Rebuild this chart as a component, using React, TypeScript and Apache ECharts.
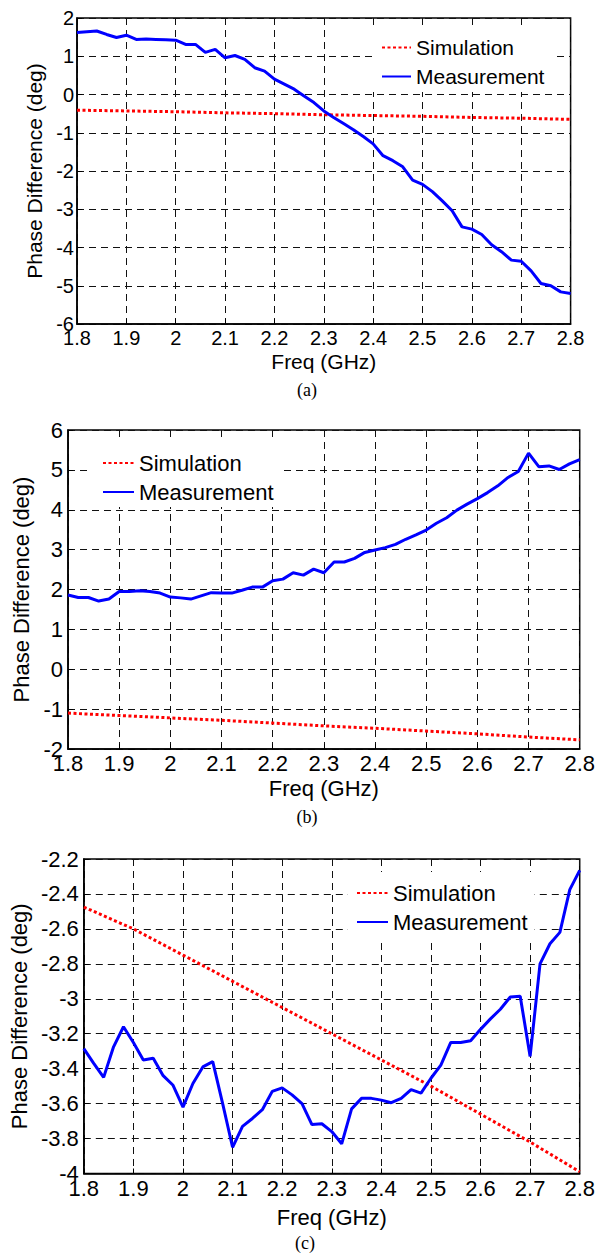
import React, { useEffect, useRef } from "react";
import * as echarts from "echarts";

// Frequency samples (GHz)
const freqMeas = [
  1.8, 1.82, 1.84, 1.86, 1.88, 1.9, 1.92, 1.94, 1.96, 1.98,
  2.0, 2.02, 2.04, 2.06, 2.08, 2.1, 2.12, 2.14, 2.16, 2.18,
  2.2, 2.22, 2.24, 2.26, 2.28, 2.3, 2.32, 2.34, 2.36, 2.38,
  2.4, 2.42, 2.44, 2.46, 2.48, 2.5, 2.52, 2.54, 2.56, 2.58,
  2.6, 2.62, 2.64, 2.66, 2.68, 2.7, 2.72, 2.74, 2.76, 2.78, 2.8,
];
const freqSim = [1.8, 1.9, 2.0, 2.1, 2.2, 2.3, 2.4, 2.5, 2.6, 2.7, 2.8];

// (a)
const measA = [
  1.62, 1.64, 1.66, 1.57, 1.49, 1.55, 1.44, 1.45, 1.44, 1.43,
  1.42, 1.31, 1.31, 1.1, 1.18, 0.96, 1.02, 0.92, 0.7, 0.61,
  0.4, 0.27, 0.14, -0.04, -0.21, -0.43, -0.6, -0.76, -0.92, -1.1,
  -1.29, -1.6, -1.73, -1.89, -2.24, -2.35, -2.54, -2.78, -3.04, -3.46,
  -3.52, -3.66, -3.93, -4.11, -4.33, -4.36, -4.61, -4.94, -5.0, -5.16, -5.2,
];
const simA = [-0.41, -0.43, -0.45, -0.48, -0.5, -0.53, -0.55, -0.57, -0.6, -0.62, -0.65];

// (b)
const measB = [
  1.86, 1.8, 1.8, 1.71, 1.76, 1.95, 1.95, 1.97, 1.95, 1.91,
  1.81, 1.79, 1.76, 1.84, 1.92, 1.91, 1.91, 1.98, 2.06, 2.06,
  2.22, 2.26, 2.42, 2.36, 2.51, 2.42, 2.69, 2.69, 2.78, 2.93,
  2.99, 3.05, 3.13, 3.26, 3.37, 3.49, 3.66, 3.8, 3.99, 4.14,
  4.28, 4.43, 4.6, 4.81, 4.96, 5.42, 5.08, 5.1, 5.01, 5.15, 5.26,
];
const simB = [-1.1, -1.16, -1.22, -1.28, -1.35, -1.42, -1.48, -1.55, -1.62, -1.7, -1.77];

// (c)
const measC = [
  -3.285, -3.37, -3.45, -3.275, -3.16, -3.25, -3.35, -3.34, -3.44, -3.495,
  -3.62, -3.485, -3.39, -3.36, -3.6, -3.85, -3.73, -3.685, -3.635, -3.53,
  -3.51, -3.55, -3.6, -3.72, -3.715, -3.76, -3.83, -3.63, -3.57, -3.57,
  -3.58, -3.595, -3.57, -3.52, -3.54, -3.455, -3.38, -3.25, -3.25, -3.24,
  -3.175, -3.115, -3.06, -2.99, -2.985, -3.33, -2.8, -2.685, -2.62, -2.375, -2.265,
];
const simC = [-2.475, -2.6, -2.75, -2.9, -3.05, -3.2, -3.35, -3.5, -3.66, -3.82, -3.99];

const seriesNames = ["Simulation", "Measurement"];
const xAxisTitle = "Freq (GHz)";
const yAxisTitle = "Phase Difference (deg)";
const captions = ["(a)", "(b)", "(c)"];

const FONT = "'Liberation Sans', Arial, Helvetica, sans-serif";

const pairs = (xs: number[], ys: number[]) => xs.map((x, i) => [x, ys[i]]);

type Panel = {
  grid: { left: number; top: number; width: number; height: number };
  yMin: number;
  yMax: number;
  yInterval: number;
  tickSize: number;
  nameSize: number;
  xLabelMargin: number;
  yLabelMargin: number;
  xNameGap: number;
  yNameGap: number;
  legend: { left: number; top: number; padding: number[]; itemWidth: number; itemGap: number; fontSize: number };
  caption: { x: number; y: number };
  meas: number[];
  sim: number[];
};

const panels: Panel[] = [
  {
    grid: { left: 77, top: 18, width: 493.6, height: 306 },
    yMin: -6, yMax: 2, yInterval: 1,
    tickSize: 20, nameSize: 21, xLabelMargin: 4, yLabelMargin: 3, xNameGap: 27, yNameGap: 28,
    legend: { left: 373, top: 25, padding: [12, 11, 5, 8], itemWidth: 29, itemGap: 8, fontSize: 21 },
    caption: { x: 307, y: 390 },
    meas: measA, sim: simA,
  },
  {
    grid: { left: 68, top: 430, width: 514.5, height: 319 },
    yMin: -2, yMax: 6, yInterval: 1,
    tickSize: 22, nameSize: 22, xLabelMargin: 3, yLabelMargin: 5, xNameGap: 28, yNameGap: 32,
    legend: { left: 92, top: 440, padding: [12, 6, 4, 10], itemWidth: 31, itemGap: 7, fontSize: 22 },
    caption: { x: 307, y: 817 },
    meas: measB, sim: simB,
  },
  {
    grid: { left: 81, top: 859, width: 508, height: 314.5 },
    yMin: -4, yMax: -2.2, yInterval: 0.2,
    tickSize: 22, nameSize: 22, xLabelMargin: 4, yLabelMargin: 5, xNameGap: 33, yNameGap: 51,
    legend: { left: 348, top: 872, padding: [10, 7, 7, 8], itemWidth: 31, itemGap: 7, fontSize: 22 },
    caption: { x: 305, y: 1243 },
    meas: measC, sim: simC,
  },
];

const gridDash = { color: "#111", width: 1, type: [7, 5] as number[] };

function buildOption() {
  const grid: any[] = [];
  const xAxis: any[] = [];
  const yAxis: any[] = [];
  const legend: any[] = [];
  const series: any[] = [];
  const graphic: any[] = [];

  panels.forEach((p, i) => {
    grid.push({
      ...p.grid,
      show: true,
      borderColor: "#000",
      borderWidth: 1.5,
      backgroundColor: "#fff",
      containLabel: false,
    });
    xAxis.push({
      type: "value",
      gridIndex: i,
      min: 1.8,
      max: 2.8,
      interval: 0.1,
      name: xAxisTitle,
      nameLocation: "middle",
      nameGap: p.xNameGap,
      nameTextStyle: { fontFamily: FONT, fontSize: p.nameSize, color: "#000" },
      axisLine: { show: true, onZero: false, lineStyle: { color: "#000", width: 1.5 } },
      axisTick: { show: true, inside: true, length: 5, lineStyle: { color: "#000" } },
      axisLabel: { fontFamily: FONT, fontSize: p.tickSize, color: "#000", margin: p.xLabelMargin },
      splitLine: { show: true, lineStyle: gridDash },
    });
    yAxis.push({
      type: "value",
      gridIndex: i,
      min: p.yMin,
      max: p.yMax,
      interval: p.yInterval,
      name: yAxisTitle,
      nameLocation: "middle",
      nameRotate: 90,
      nameGap: p.yNameGap,
      nameTextStyle: { fontFamily: FONT, fontSize: p.nameSize, color: "#000" },
      axisLine: { show: true, onZero: false, lineStyle: { color: "#000", width: 1.5 } },
      axisTick: { show: true, inside: true, length: 5, lineStyle: { color: "#000" } },
      axisLabel: { fontFamily: FONT, fontSize: p.tickSize, color: "#000", margin: p.yLabelMargin },
      splitLine: { show: true, lineStyle: gridDash },
    });
    legend.push({
      orient: "vertical",
      left: p.legend.left,
      top: p.legend.top,
      padding: p.legend.padding,
      backgroundColor: "#fff",
      itemWidth: p.legend.itemWidth,
      itemHeight: 12,
      itemGap: p.legend.itemGap,
      selectedMode: false,
      itemStyle: { opacity: 0 },
      textStyle: { fontFamily: FONT, fontSize: p.legend.fontSize, color: "#000" },
      data: seriesNames,
    });
    series.push({
      type: "line",
      name: seriesNames[0],
      xAxisIndex: i,
      yAxisIndex: i,
      data: pairs(freqSim, p.sim),
      symbol: "none",
      showSymbol: false,
      lineStyle: { color: "#ff0000", width: 3, type: [3, 2.5] },
      itemStyle: { color: "#ff0000" },
      z: 3,
    });
    series.push({
      type: "line",
      name: seriesNames[1],
      xAxisIndex: i,
      yAxisIndex: i,
      data: pairs(freqMeas, p.meas),
      symbol: "none",
      showSymbol: false,
      lineStyle: { color: "#0000ff", width: 3, type: "solid" },
      itemStyle: { color: "#0000ff" },
      z: 4,
    });
    graphic.push({
      type: "text",
      x: p.caption.x,
      y: p.caption.y,
      style: {
        text: captions[i],
        fill: "#000",
        fontSize: 18,
        fontFamily: "'Liberation Serif', 'Times New Roman', serif",
        align: "center",
        verticalAlign: "middle",
      },
    });
  });

  return {
    animation: false,
    backgroundColor: "#fff",
    grid,
    xAxis,
    yAxis,
    legend,
    series,
    graphic,
  };
}

export default function App() {
  const ref = useRef<HTMLDivElement>(null);
  useEffect(() => {
    if (!ref.current) return;
    const chart = echarts.init(ref.current, undefined, { renderer: "svg" });
    chart.setOption(buildOption() as any);
    return () => chart.dispose();
  }, []);
  return (
    <div
      ref={ref}
      style={{ position: "absolute", left: 0, top: 0, width: 598, height: 1253, background: "#fff" }}
    />
  );
}
